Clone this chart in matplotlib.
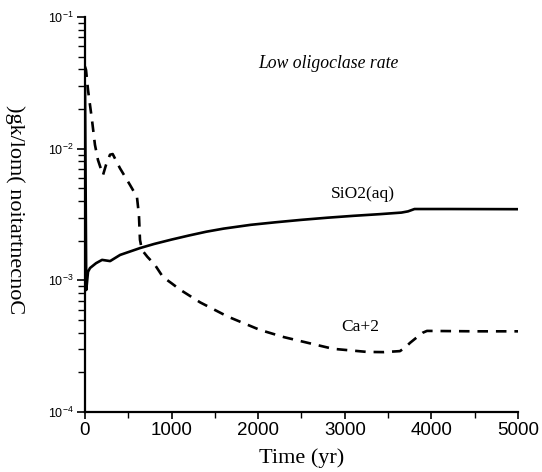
import numpy as np
import matplotlib
matplotlib.use('Agg')
import matplotlib.pyplot as plt
from matplotlib.ticker import MultipleLocator, LogLocator, LogFormatterMathtext, NullFormatter

# values
time_sio2 = [0, 15, 35, 58, 128, 197, 290, 406, 638, 800, 1000, 1200, 1400, 1600, 1914, 2200,
             2500, 2800, 3100, 3400, 3654, 3730, 3805, 4200, 5000]
sio2 = [0.03, 0.000845, 0.00116, 0.00124, 0.00135, 0.00143, 0.00140, 0.00156, 0.00176, 0.00189,
        0.00204, 0.00219, 0.00234, 0.00247, 0.00264, 0.00276, 0.00288, 0.00299, 0.00309, 0.00318,
        0.00327, 0.00334, 0.00348, 0.00348, 0.00347]

time_ca = [0, 12, 35, 81, 115, 150, 208, 242, 289, 320, 404, 520, 600, 623, 635, 658, 720, 808, 900,
           1000, 1097, 1330, 1650, 2021, 2300, 2575, 2864, 3256, 3450, 3637, 3700, 3753, 3834,
           3900, 3949, 4500, 5000]
ca = [0.042, 0.0396, 0.0279, 0.0165, 0.0107, 0.0082, 0.0063, 0.0075, 0.0090, 0.0091, 0.0071,
      0.0053, 0.0043, 0.00314, 0.00203, 0.0017, 0.00151, 0.00131, 0.00106, 0.00095, 0.00085,
      0.00068, 0.00053, 0.00042, 0.00037, 0.000335, 0.000302, 0.000286, 0.000285, 0.00029,
      0.00031, 0.000335, 0.00037, 0.0004, 0.000413, 0.00041, 0.00041]

plt.rcParams['font.family'] = 'Liberation Sans'
plt.rcParams['mathtext.fontset'] = 'custom'
plt.rcParams['mathtext.rm'] = 'Liberation Sans'

fig = plt.figure(figsize=(5.42, 4.72), dpi=100)
ax = fig.add_axes([0.1568, 0.1271, 0.7989, 0.8369])

ax.plot(time_sio2, sio2, color='black', lw=1.9)
ax.plot(time_ca, ca, color='black', lw=1.9, dashes=(4, 3))

ax.set_yscale('log')
ax.set_xlim(0, 5000)
ax.set_ylim(1e-4, 1e-1)

ax.spines['top'].set_visible(False)
ax.spines['right'].set_visible(False)
ax.spines['left'].set_linewidth(1.6)
ax.spines['bottom'].set_linewidth(1.6)

ax.xaxis.set_major_locator(MultipleLocator(1000))
ax.xaxis.set_minor_locator(MultipleLocator(500))
ax.yaxis.set_major_locator(LogLocator(base=10))
ax.yaxis.set_minor_locator(LogLocator(base=10, subs=np.arange(2, 10)))
ax.yaxis.set_major_formatter(LogFormatterMathtext())
ax.yaxis.set_minor_formatter(NullFormatter())

ax.tick_params(axis='x', which='major', direction='out', length=5, width=1.2, labelsize=13.5, pad=2)
ax.tick_params(axis='x', which='minor', direction='out', length=4, width=1.0)
ax.tick_params(axis='y', which='major', direction='out', length=6, width=1.2, labelsize=9, pad=2)
ax.tick_params(axis='y', which='minor', direction='out', length=5, width=1.0)

ax.set_xlabel('Time (yr)', family='Liberation Serif', fontsize=16, labelpad=7)

# the y label in the reference is drawn with its letters running the other way
fig.text(0.028, 0.555, 'Concentration (mol/kg)'[::-1], rotation=-90, family='Liberation Serif',
         fontsize=16, ha='center', va='center')

ax.text(2806, 0.044, 'Low oligoclase rate', family='Liberation Serif', style='italic',
        fontsize=12.7, ha='center', va='center')
ax.text(3210, 0.00453, 'SiO2(aq)', family='Liberation Serif', fontsize=12.5, ha='center', va='center')
ax.text(3175, 0.000443, 'Ca+2', family='Liberation Serif', fontsize=12.5, ha='center', va='center')

plt.savefig('out.png', dpi=100)
